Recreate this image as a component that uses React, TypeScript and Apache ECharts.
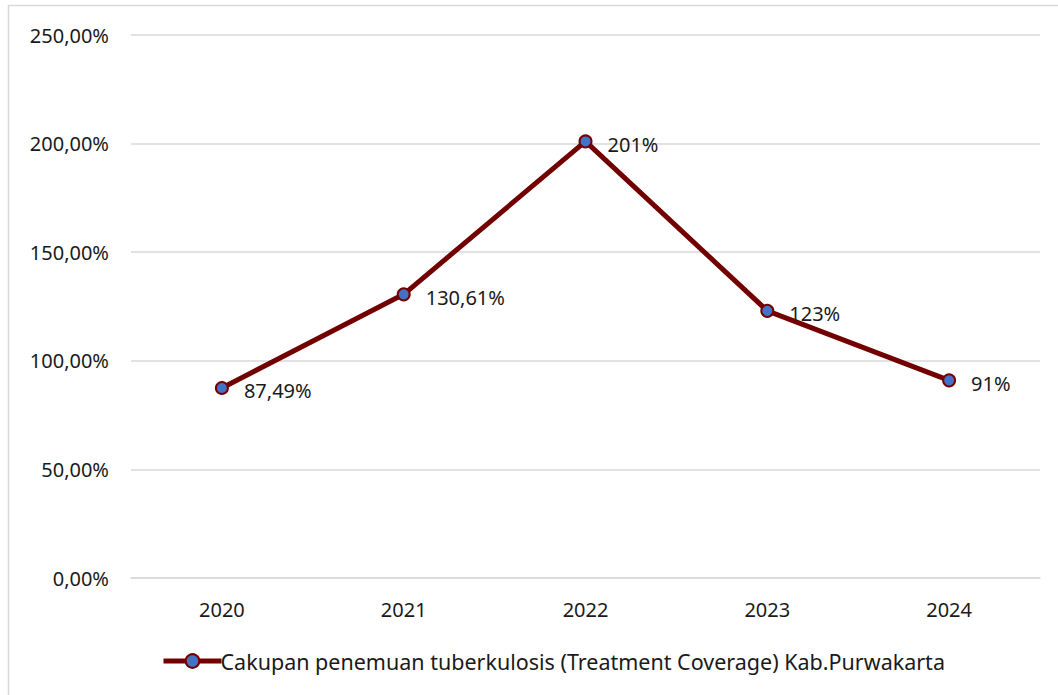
import React, { useEffect, useRef } from "react";
import * as echarts from "echarts";

const years = ["2020", "2021", "2022", "2023", "2024"];
const coverage = [87.49, 130.61, 201, 123, 91];
const seriesName = "Cakupan penemuan tuberkulosis (Treatment Coverage) Kab.Purwakarta";
const yMin = 0;
const yMax = 250;
const yStep = 50;

const FONT = "'Noto Sans', 'Open Sans', sans-serif";
const LINE = "#720000";

function pct(v: number): string {
  return Number.isInteger(v) ? `${v}%` : `${v.toFixed(2).replace(".", ",")}%`;
}

export default function App() {
  const ref = useRef<HTMLDivElement>(null);

  useEffect(() => {
    if (!ref.current) return;
    const chart = echarts.init(ref.current, null, { renderer: "svg" });
    chart.setOption({
      animation: false,
      backgroundColor: "#ffffff",
      textStyle: { fontFamily: FONT },
      graphic: [
        {
          type: "rect",
          shape: { x: 8.5, y: 5.5, width: 1200, height: 900 },
          style: { fill: "none", stroke: "#d9d9d9", lineWidth: 1.5 },
          silent: true,
        },
      ],
      grid: { left: 131, right: 18, top: 35, bottom: 117 },
      legend: {
        bottom: 18,
        left: 156,
        itemWidth: 58,
        itemHeight: 17,
        itemGap: 0,
        lineStyle: { width: 5, color: LINE },
        textStyle: { fontSize: 21.5, color: "#1a1a1a", fontFamily: FONT, padding: [0, 0, 0, -6] },
        data: [{ name: seriesName }],
      },
      xAxis: {
        type: "category",
        data: years,
        boundaryGap: true,
        axisLine: { lineStyle: { color: "#d9d9d9", width: 1.5 } },
        axisTick: { show: false },
        axisLabel: { fontSize: 20, color: "#1a1a1a", margin: 21, fontFamily: FONT },
      },
      yAxis: {
        type: "value",
        min: yMin,
        max: yMax,
        interval: yStep,
        axisLine: { show: false },
        axisTick: { show: false },
        splitLine: { lineStyle: { color: "#d9d9d9", width: 1.5 } },
        axisLabel: {
          fontSize: 20,
          color: "#1a1a1a",
          margin: 22,
          fontFamily: FONT,
          formatter: (v: number) => `${v.toFixed(2).replace(".", ",")}%`,
        },
      },
      series: [
        {
          name: seriesName,
          type: "line",
          data: coverage,
          symbol: "circle",
          symbolSize: 12,
          lineStyle: { color: LINE, width: 5 },
          itemStyle: { color: "#4472c4", borderColor: LINE, borderWidth: 2 },
          label: {
            show: true,
            position: "right",
            distance: 15,
            offset: [0, 3],
            fontSize: 20,
            color: "#1a1a1a",
            fontFamily: FONT,
            formatter: (p: any) => pct(p.value),
          },
        },
      ],
    });
    return () => chart.dispose();
  }, []);

  return (
    <div
      ref={ref}
      style={{ position: "absolute", left: 0, top: 0, width: 1058, height: 695 }}
    />
  );
}
